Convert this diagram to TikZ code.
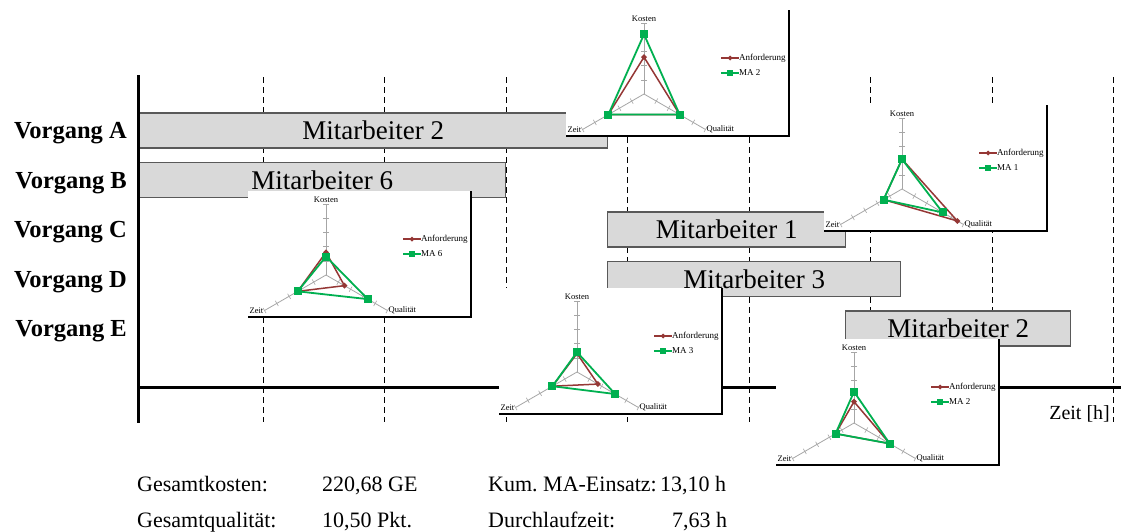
\documentclass[tikz,border=0pt]{standalone}
\usepackage{fontspec}
\setmainfont{Liberation Serif}
\frenchspacing
\definecolor{balkengrau}{HTML}{D9D9D9}
\definecolor{randgrau}{HTML}{595959}
\definecolor{anfrot}{HTML}{953735}
\definecolor{magruen}{HTML}{00B050}
\definecolor{achsgrau}{HTML}{A6A6A6}

\begin{document}
\begin{tikzpicture}[x=1pt, y=-1pt,
    balkenstil/.style={draw=randgrau, fill=balkengrau, line width=1.3pt, minimum height=35, inner sep=0pt, font=\fontsize{27}{30}\selectfont},
    vorgang/.style={font=\fontsize{24.5}{28}\selectfont\bfseries, inner sep=0pt},
    netzschrift/.style={font=\fontsize{8.5}{9}\selectfont, inner sep=1pt},
    unten/.style={font=\fontsize{22}{26}\selectfont, inner sep=0pt, anchor=base west},
    anf/.style={draw=anfrot, line width=1.5pt, line join=round},
    mag/.style={draw=magruen, line width=1.8pt, line join=round}]
    \useasboundingbox (0,0) rectangle (1121,531);

    % Zeitraster (Stunden)
    \foreach \x in {263,384.5,506,627.5,749,870.5,992,1113.5}
        \draw[line width=0.8pt, dash pattern=on 6pt off 4pt] (\x,77) -- (\x,422);

    % Balken der Vorgaenge
    \foreach \v/\xa/\xb/\yc/\ma in {A/138/607/130.5/2, B/138/505/180/6, C/607/845/229.5/1, D/607/900/279/3, E/845/1070/328.5/2} {
        \node[vorgang, anchor=base east] (vorgang\v) at (127,\yc+8) {Vorgang \v};
        \node[balkenstil, minimum width={\xb-\xa}, anchor=west] (balken\v) at (\xa,\yc) {Mitarbeiter \ma};
    }

    % Achsen
    \draw[line width=3pt] (138,75) -- (138,423);
    \draw[line width=3pt] (138,387) -- (1121,387);
    \node[font=\fontsize{20}{24}\selectfont, inner sep=0pt, anchor=base east] (zeitachse) at (1110,419) {Zeit [h]};

    % Netzdiagramme: Anforderung und Mitarbeiter
    \foreach \cx/\cy/\ma/\rk/\rz/\rq/\gk/\gz/\gq [count=\i] in {644/94/2/2.6/2.9/2.9/4.2/2.9/2.9, 902/189/1/2.1/1.5/4.5/2.1/1.5/3.3, 326/275/6/1.6/2.3/1.5/1.3/2.3/3.4, 577/372/3/1.3/2.0/1.7/1.4/2.0/3.1, 854/423/2/1.5/1.5/2.9/2.2/1.5/2.9} {
        \begin{scope}[shift={(\cx,\cy)}]
            \fill[white] (-78,-84) rectangle (145,42);
            \draw[line width=1.6pt] (-78,42) -- (145,42) -- (145,-84);
            \foreach \w in {-90,150,30} {
                \draw[achsgrau, line width=0.8pt] (0,0) -- (\w:71);
                \foreach \s in {1,...,5}
                    \draw[achsgrau, line width=0.6pt] (\w:\s*14.2) ++(\w+90:3) -- ++(\w-90:6);
            }
            \node[netzschrift, anchor=south] (kosten\i) at (-90:71) {Kosten};
            \node[netzschrift, anchor=east] (zeit\i) at (150:71) {Zeit};
            \node[netzschrift, anchor=west] (qualitaet\i) at (30:71) {Qualität};
            % Anforderung
            \draw[anf] (-90:\rk*14.2) -- (150:\rz*14.2) -- (30:\rq*14.2) -- cycle;
            \foreach \w/\r in {-90/\rk, 150/\rz, 30/\rq}
                \fill[anfrot] (\w:\r*14.2) +(-3,0) -- +(0,-3) -- +(3,0) -- +(0,3) -- cycle;
            % Mitarbeiter
            \draw[mag] (-90:\gk*14.2) -- (150:\gz*14.2) -- (30:\gq*14.2) -- cycle;
            \foreach \w/\r in {-90/\gk, 150/\gz, 30/\gq}
                \fill[magruen] (\w:\r*14.2) +(-4,-4) rectangle +(4,4);
            % Legende
            \draw[anf] (77,-36) -- (95,-36);
            \fill[anfrot] (86,-36) +(-2.5,0) -- +(0,-2.5) -- +(2.5,0) -- +(0,2.5) -- cycle;
            \node[netzschrift, anchor=west, font=\fontsize{9}{10}\selectfont] (anf\i) at (94,-36) {Anforderung};
            \draw[mag] (77,-21) -- (95,-21);
            \fill[magruen] (86,-21) +(-3,-3) rectangle +(3,3);
            \node[netzschrift, anchor=west, font=\fontsize{9}{10}\selectfont] (ma\i) at (94,-21) {MA \ma};
        \end{scope}
    }

    % Kennzahlen
    \node[unten] (gk) at (137,491) {Gesamtkosten:};
    \node[unten] (gkwert) at (322,491) {220,68 GE};
    \node[unten] (ma) at (488,491) {Kum. MA-Einsatz:};
    \node[unten] (mawert) at (660,491) {13,10 h};
    \node[unten] (gq) at (137,527) {Gesamtqualität:};
    \node[unten] (gqwert) at (322,527) {10,50 Pkt.};
    \node[unten] (dz) at (488,527) {Durchlaufzeit:};
    \node[unten] (dzwert) at (672,527) {7,63 h};
\end{tikzpicture}
\end{document}
